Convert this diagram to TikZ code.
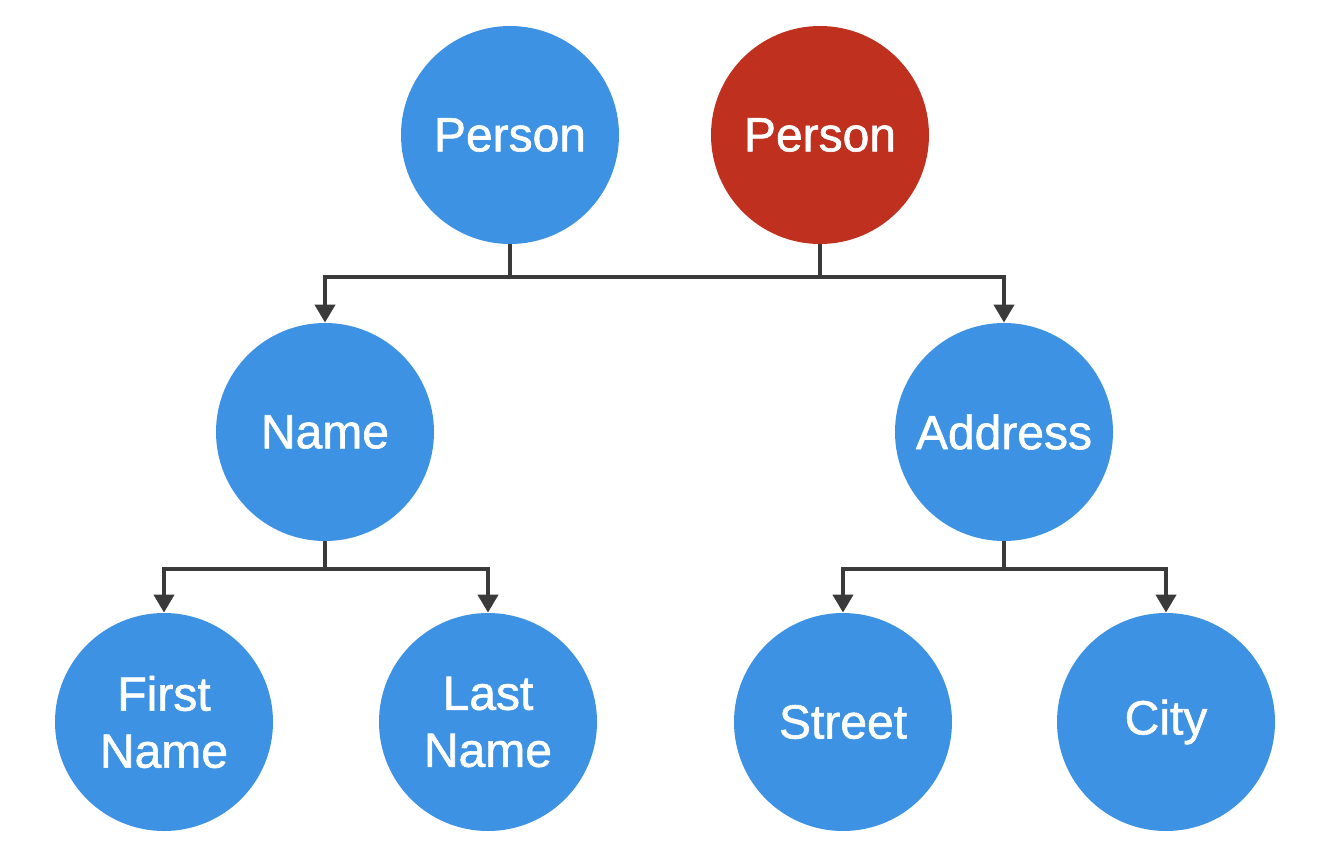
\documentclass[tikz,border=0pt]{standalone}
\usepackage{fontspec}
\setmainfont{Liberation Sans}
\newfontfamily\labelfont[FakeBold=1.2]{Liberation Sans}
\usetikzlibrary{arrows.meta}
\definecolor{nodeblue}{RGB}{61,146,228}
\definecolor{nodered}{RGB}{192,48,30}
\definecolor{linkgray}{RGB}{58,58,58}
\begin{document}
\begin{tikzpicture}[x=0.5pt,y=-0.5pt,
  entity/.style={circle,fill=nodeblue,draw=none,minimum size=109pt,inner sep=0pt,
    text=white,align=center,font=\labelfont\fontsize{24pt}{28.5pt}\selectfont},
  root/.style={entity,fill=nodered},
  link/.style={draw=linkgray,line width=2pt},
  arrowlink/.style={link,-{Triangle[width=10pt,length=9pt]}}]
  \useasboundingbox[fill=white] (0,0) rectangle (1324,868);

  % nodes
  \node[entity] (p1) at (510,135) {Person};
  \node[root]   (p2) at (820,135) {Person};
  \node[entity] (name) at (325,432) {Name};
  \node[entity] (addr) at (1004,432) {Address};
  \node[entity] (first) at (164,722) {First\\Name};
  \node[entity] (last) at (488,722) {Last\\Name};
  \node[entity] (street) at (843,722) {Street};
  \node[entity] (city) at (1166,722) {City};

  % bus levels
  \coordinate (bus1) at (0,277);
  \coordinate (bus2) at (0,569);

  % Person -> Name / Address
  \draw[link] (p1.south) -- (p1.south |- bus1);
  \draw[link] (p2.south) -- (p2.south |- bus1);
  \draw[arrowlink] (p1.south |- bus1) -| (name.north);
  \draw[arrowlink] (p1.south |- bus1) -| (addr.north);

  % Name -> First / Last
  \draw[link] (name.south) -- (name.south |- bus2);
  \draw[arrowlink] (name.south |- bus2) -| (first.north);
  \draw[arrowlink] (name.south |- bus2) -| (last.north);

  % Address -> Street / City
  \draw[link] (addr.south) -- (addr.south |- bus2);
  \draw[arrowlink] (addr.south |- bus2) -| (street.north);
  \draw[arrowlink] (addr.south |- bus2) -| (city.north);
\end{tikzpicture}
\end{document}
